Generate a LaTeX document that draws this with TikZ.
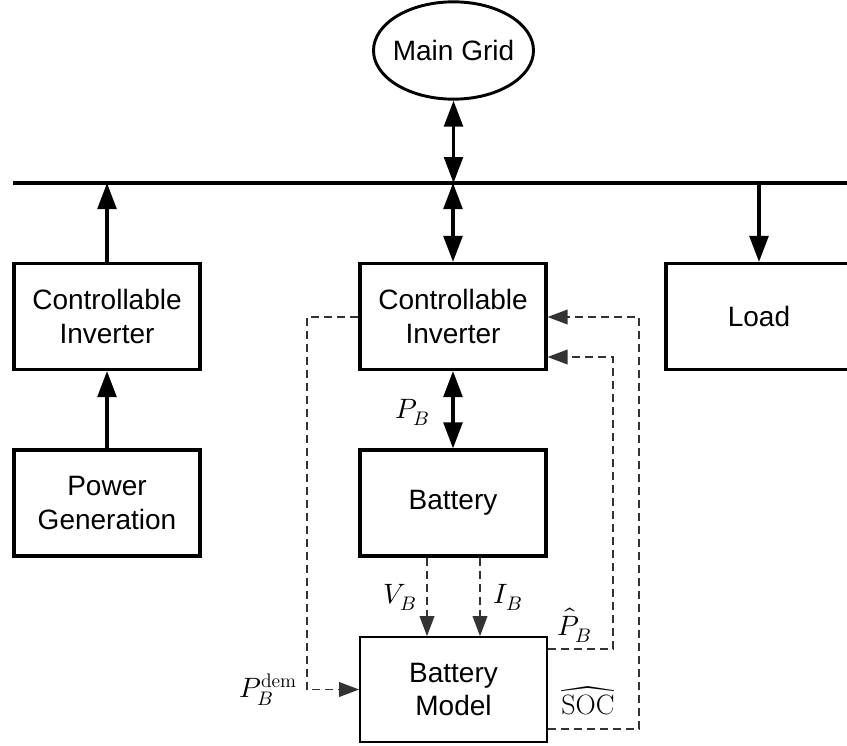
\documentclass[tikz,border=0pt]{standalone}
\usepackage{fontspec}
\usepackage{unicode-math}
\newfontfamily\arialfont{Liberation Sans}
\usetikzlibrary{arrows.meta,shapes.geometric}
\begin{document}
\begin{tikzpicture}[x=0.75pt,y=-0.75pt,
  box/.style={draw,line width=2.3pt,minimum width=139.5pt,minimum height=79.5pt,
    align=center,inner sep=0pt,font=\arialfont\fontsize{21}{25}\selectfont},
  thinbox/.style={box,line width=1.3pt,minimum width=140.25pt,minimum height=78.75pt},
  gridnode/.style={draw,ellipse,line width=2.2pt,minimum width=120pt,minimum height=73pt,
    inner xsep=-5pt,inner ysep=0pt,font=\arialfont\fontsize{21}{25}\selectfont},
  power/.style={line width=2.6pt,-{Triangle[length=19.5pt,width=14pt]}},
  power2/.style={line width=2.6pt,{Triangle[length=19.5pt,width=14pt]}-{Triangle[length=19.5pt,width=14pt]}},
  sig/.style={line width=1.1pt,black!80,dash pattern=on 6pt off 3.75pt,-{Triangle[length=15pt,width=11pt]}},
  lab/.style={inner sep=0pt,font=\fontsize{21}{25}\selectfont},
  bus/.style={line width=2.4pt}
]
\useasboundingbox (0,0) rectangle (847,746);
\clip (0,0) rectangle (847,746);

% nodes
\node[gridnode] (grid) at (453.5,50.5) {Main Grid};
\node[box] (invL) at (107,316.5) {Controllable\\Inverter};
\node[box] (gen) at (107,503) {Power\\Generation};
\node[box] (inv) at (453,316.5) {Controllable\\Inverter};
\node[box] (bat) at (453,503) {Battery};
\node[thinbox] (model) at (453.5,689.5) {Battery\\Model};
\node[box] (load) at (759,316.5) {Load};

% bus
\coordinate (busL) at (13,183);
\coordinate (busR) at (860,183);
\draw[bus] (busL) -- (busR);

% power flows
\draw[power2] (grid.south) -- (grid.south |- busL);
\draw[power2] (inv.north |- busL) -- (inv.north);
\draw[power] (invL.north) -- (invL.north |- busL);
\draw[power] (gen.north) -- (invL.south);
\draw[power] (load.north |- busL) -- (load.north);
\draw[power2] (inv.south) -- (bat.north);
\node[lab] (pb) at (413,412) {$P_B$};

% signals
\coordinate (vbx) at (427,0);
\coordinate (ibx) at (480,0);
\draw[sig] (bat.south -| vbx) -- (model.north -| vbx);
\draw[sig] (bat.south -| ibx) -- (model.north -| ibx);
\node[lab] (vb) at (400,597) {$V_B$};
\node[lab] (ib) at (508,597) {$I_B$};

\coordinate (d1) at (307,317);
\draw[sig] (inv.west |- d1) -- (d1) |- (model.west);
\node[lab] (pdem) at (268,690) {$P_B^{\mathrm{dem}}$};

\coordinate (p1) at (613,649);
\coordinate (p2) at (613,357);
\draw[sig] (model.east |- p1) -- (p1) -- (p2) -- (inv.east |- p2);
\node[lab] (phat) at (575,625) {$\hat{P}_B$};

\coordinate (s1) at (639,729);
\coordinate (s2) at (639,317);
\draw[sig] (model.east |- s1) -- (s1) -- (s2) -- (inv.east |- s2);
\node[lab] (soc) at (588,701) {$\widehat{\mathrm{SOC}}$};
\end{tikzpicture}
\end{document}
